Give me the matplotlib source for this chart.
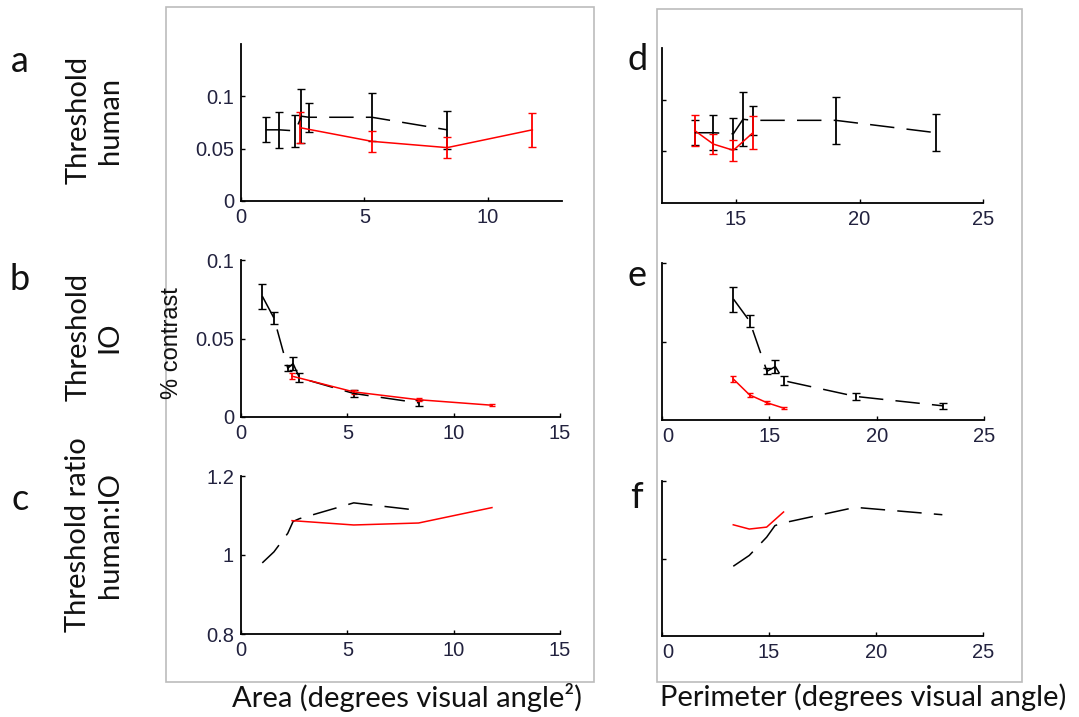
import matplotlib.pyplot as plt
from matplotlib.patches import Rectangle

plt.rcParams['font.family'] = 'Liberation Sans'

# threshold data for the two stimulus sets (black = set 1, red = set 2)
black_area = [1.0, 1.55, 2.2, 2.45, 2.75, 5.3, 8.35]
black_perim = [13.33, 14.08, 14.89, 15.28, 15.68, 19.03, 23.1]
black_human = [0.068, 0.068, 0.067, 0.081, 0.080, 0.080, 0.068]
black_human_err = [0.012, 0.017, 0.015, 0.026, 0.014, 0.023, 0.018]
black_io = [0.077, 0.063, 0.031, 0.034, 0.025, 0.015, 0.009]
black_io_err = [0.008, 0.004, 0.002, 0.004, 0.003, 0.002, 0.002]
black_ratio = [0.98, 1.008, 1.055, 1.085, 1.092, 1.132, 1.113]

red_area = [2.4, 5.3, 8.35, 11.8]
red_perim = [13.33, 14.08, 14.89, 15.68]
red_human = [0.070, 0.057, 0.051, 0.068]
red_human_err = [0.015, 0.010, 0.010, 0.016]
red_io = [0.026, 0.016, 0.011, 0.0075]
red_io_err = [0.002, 0.0012, 0.001, 0.0008]
red_ratio = [1.087, 1.076, 1.081, 1.12]

W, H = 1079, 717
TICK_COLOR = '#22223f'
DASH = (0, (16, 8))

fig = plt.figure(figsize=(W / 100, H / 100), dpi=100)


def px_axes(left, top, right, bottom):
  return fig.add_axes([left / W, 1 - bottom / H, (right - left) / W, (bottom - top) / H])


def style(ax, xlim, ylim, xticks, yticks, xlabels=None, ylabels=None):
  ax.set_xlim(*xlim)
  ax.set_ylim(*ylim)
  for s in ('top', 'right'):
    ax.spines[s].set_visible(False)
  for s in ('left', 'bottom'):
    ax.spines[s].set_linewidth(1.3)
  ax.set_xticks(xticks, [str(t) for t in xticks] if xlabels is None else xlabels)
  ax.set_yticks(yticks, [''] * len(yticks) if ylabels is None else ylabels)
  ax.tick_params(direction='in', length=3, width=1, labelsize=14.5,
                 labelcolor=TICK_COLOR, pad=5)


def human_panel(ax, xb, xr):
  ax.errorbar(xb, black_human, yerr=black_human_err, color='k', lw=1.1,
              ls=DASH, elinewidth=1.3, capsize=3)
  ax.errorbar(xr, red_human, yerr=red_human_err, color='red', lw=1.1,
              elinewidth=1.3, capsize=3)


def io_panel(ax, xb, xr):
  ax.errorbar(xb, black_io, yerr=black_io_err, color='k', lw=1.1,
              ls=DASH, elinewidth=1.3, capsize=3)
  ax.errorbar(xr, red_io, yerr=red_io_err, color='red', lw=1.1,
              elinewidth=1.3, capsize=2)


def ratio_panel(ax, xb, xr):
  ax.plot(xb, black_ratio, color='k', lw=1.1, ls=DASH)
  ax.plot(xr, red_ratio, color='red', lw=1.1)


# area column
ax_a = px_axes(241, 44, 562, 201)
human_panel(ax_a, black_area, red_area)
style(ax_a, (0, 13), (0, 0.15), [0, 5, 10], [0, 0.05, 0.1],
      ylabels=['0', '0.05', '0.1'])

ax_b = px_axes(241, 260, 560, 417)
io_panel(ax_b, black_area, red_area)
style(ax_b, (0, 15), (0, 0.1), [0, 5, 10, 15], [0, 0.05, 0.1],
      ylabels=['0', '0.05', '0.1'])

ax_c = px_axes(241, 476, 560, 634)
ratio_panel(ax_c, black_area, red_area)
style(ax_c, (0, 15), (0.8, 1.2), [0, 5, 10, 15], [0.8, 1, 1.2],
      ylabels=['0.8', '1', '1.2'])

# perimeter column
ax_d = px_axes(662, 48, 983, 203)
human_panel(ax_d, black_perim, red_perim)
style(ax_d, (12, 25), (0, 0.15), [15, 20, 25], [0.05, 0.1])

ax_e = px_axes(662, 263, 984, 420)
io_panel(ax_e, black_perim, red_perim)
style(ax_e, (10, 25), (0, 0.1), [10, 15, 20, 25], [0.05, 0.1],
      xlabels=['0', '15', '20', '25'])

ax_f = px_axes(662, 481, 983, 636)
ratio_panel(ax_f, black_perim, red_perim)
style(ax_f, (10, 25), (0.8, 1.2), [10, 15, 20, 25], [1, 1.2],
      xlabels=['0', '15', '20', '25'])

for ax in (ax_e, ax_f):
  ax.get_xticklabels()[0].set_ha('left')

# grey frames round each column
fig.add_artist(Rectangle((166 / W, 1 - 682 / H), 428 / W, 675 / H,
                         transform=fig.transFigure, fill=False,
                         edgecolor='#bcbcbc', lw=1.2))
fig.add_artist(Rectangle((657 / W, 1 - 682 / H), 365 / W, 673 / H,
                         transform=fig.transFigure, fill=False,
                         edgecolor='#bcbcbc', lw=1.2))

big = dict(family='Lato', fontsize=21, color='#111111')


def ftext(x, y, s, **kw):
  fig.text(x / W, 1 - y / H, s, **kw)


for x, y, s in [(20, 62, 'a'), (20, 280, 'b'), (20, 500, 'c'),
                (638, 60, 'd'), (637, 275, 'e'), (636, 497, 'f')]:
  ftext(x, y, s, ha='center', va='center', family='Lato', fontsize=26,
        color='#111111')

for y, s in [(120, 'Threshold\nhuman'), (337, 'Threshold\nIO'),
             (535, 'Threshold ratio\nhuman:IO')]:
  ftext(94, y, s, rotation=90, ha='center', va='center',
        multialignment='center', linespacing=1.25, **big)

ftext(172, 343, '% contrast', rotation=90, ha='center', va='center',
      fontsize=17, color='#111111')

ftext(407, 697, 'Area (degrees visual angle²)', ha='center', va='center', **big)
ftext(863, 697, 'Perimeter (degrees visual angle)', ha='center', va='center', **big)

fig.savefig('out.png', dpi=100)
